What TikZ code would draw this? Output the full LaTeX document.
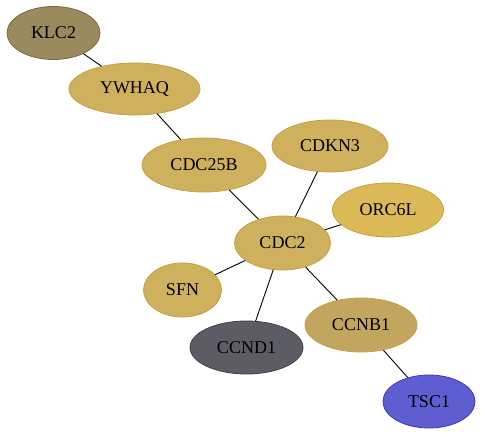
\documentclass[tikz,border=0pt]{standalone}
\usepackage{fontspec}
\setmainfont{Liberation Serif}
\usetikzlibrary{shapes.geometric}
\definecolor{gold}{HTML}{CFB05C}
\definecolor{goldb}{HTML}{C4A040}
\definecolor{orc}{HTML}{DCBA58}
\definecolor{ccnb}{HTML}{C2A660}
\definecolor{klc}{HTML}{9A8A5E}
\definecolor{klcb}{HTML}{786840}
\definecolor{ccnd}{HTML}{5C5C66}
\definecolor{ccndb}{HTML}{3E3E4E}
\definecolor{tsc}{HTML}{5E5ED0}
\definecolor{tscb}{HTML}{3838C0}
\tikzset{
  gene/.style={ellipse, draw=goldb, fill=gold, line width=0.8pt, inner sep=0pt, font=\fontsize{18}{20}\selectfont},
  link/.style={draw=black, line width=0.9pt}
}
\begin{document}
\begin{tikzpicture}[x=1pt,y=-1pt]
\useasboundingbox (0,0) rectangle (481,435);
\node[gene, fill=klc, draw=klcb, minimum width=93, minimum height=53] (KLC2) at (53.5,33) {KLC2};
\node[gene, minimum width=131, minimum height=52] (YWHAQ) at (134.5,89) {YWHAQ};
\node[gene, minimum width=124, minimum height=54] (CDC25B) at (204,165) {CDC25B};
\node[gene, minimum width=116, minimum height=52] (CDKN3) at (330,146) {CDKN3};
\node[gene, fill=orc, minimum width=111, minimum height=54] (ORC6L) at (388,210) {ORC6L};
\node[gene, minimum width=96, minimum height=54] (CDC2) at (282.5,243) {CDC2};
\node[gene, minimum width=78, minimum height=54] (SFN) at (182.5,290) {SFN};
\node[gene, fill=ccnd, draw=ccndb, minimum width=113, minimum height=53] (CCND1) at (246.5,347.5) {CCND1};
\node[gene, fill=ccnb, minimum width=112, minimum height=54] (CCNB1) at (361,325) {CCNB1};
\node[gene, fill=tsc, draw=tscb, minimum width=92, minimum height=53] (TSC1) at (429,401.5) {TSC1};
\draw[link] (KLC2) -- (YWHAQ);
\draw[link] (YWHAQ) -- (CDC25B);
\draw[link] (CDC25B) -- (CDC2);
\draw[link] (CDKN3) -- (CDC2);
\draw[link] (ORC6L) -- (CDC2);
\draw[link] (SFN) -- (CDC2);
\draw[link] (CCND1) -- (CDC2);
\draw[link] (CCNB1) -- (CDC2);
\draw[link] (CCNB1) -- (TSC1);
\end{tikzpicture}
\end{document}
